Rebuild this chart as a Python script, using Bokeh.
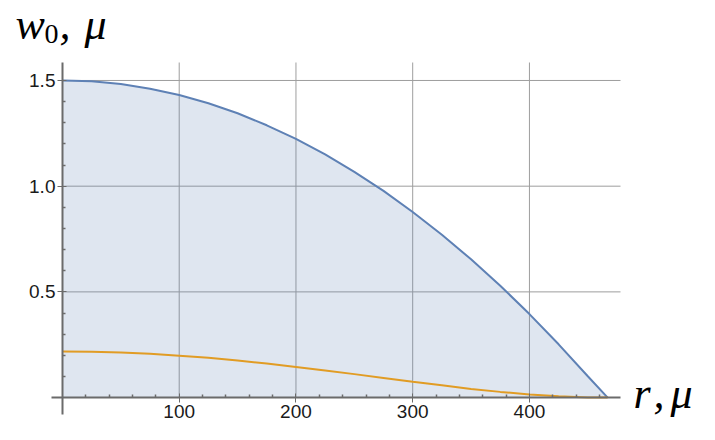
from bokeh.plotting import figure
from bokeh.models import FixedTicker, Label, Range1d
from bokeh.embed import file_html
from bokeh.resources import INLINE

# ---- data ----
r = [0, 25, 50, 75, 100, 125, 150, 175, 200, 225, 250, 275, 300, 325, 350, 375, 400, 425, 450, 467]
w_max = [1.500, 1.496, 1.483, 1.461, 1.431, 1.392, 1.345, 1.288, 1.224, 1.150, 1.068, 0.978,
         0.878, 0.770, 0.654, 0.529, 0.395, 0.252, 0.101, 0.0]
w_min = [0.218, 0.217, 0.213, 0.207, 0.198, 0.188, 0.175, 0.161, 0.145, 0.128, 0.111, 0.093,
         0.075, 0.058, 0.041, 0.027, 0.015, 0.006, 0.001, 0.0]

x_ticks = [100, 200, 300, 400]
x_minor = [v for v in range(20, 480, 20) if v % 100]
y_ticks = [0.5, 1.0, 1.5]
y_tick_labels = ["0.5", "1.0", "1.5"]
y_minor = [round(0.1 * k, 1) for k in range(1, 16) if k % 5]

# ---- geometry ----
W, H = 715, 440
X0, X1 = -9.4, 478.0
Y0, Y1 = -0.08, 1.585
PL, PR, PT, PB = 51, 620, 62, 414
SX = (PR - PL) / (X1 - X0)
SY = (PB - PT) / (Y1 - Y0)
XR = (X0 - PL / SX, X1 + (W - PR) / SX)
YR = (Y0 - (H - PB) / SY, Y1 + PT / SY)


def dx(px):
    return XR[0] + px / SX


def dy(py):
    return YR[1] - py / SY


p = figure(width=W, height=H, x_range=Range1d(*XR), y_range=Range1d(*YR),
           output_backend="svg", toolbar_location=None,
           min_border_left=0, min_border_right=0, min_border_top=0, min_border_bottom=0)
p.outline_line_color = None
p.xgrid.visible = False
p.ygrid.visible = False
p.background_fill_color = "white"
p.border_fill_color = "white"

GRID = "#9e9e9e"
p.segment(x0=x_ticks, y0=[0] * len(x_ticks), x1=x_ticks, y1=[Y1] * len(x_ticks),
          line_color=GRID, line_width=1)
p.segment(x0=[0] * len(y_ticks), y0=y_ticks, x1=[X1] * len(y_ticks), y1=y_ticks,
          line_color=GRID, line_width=1)

p.varea(x=r, y1=[0] * len(r), y2=w_max, fill_color="#5E81B5", fill_alpha=0.2)
p.line(r, w_max, line_color="#5E81B5", line_width=2)
p.line(r, w_min, line_color="#E19C24", line_width=2)

AX = "#6b6b6b"
for ax in (p.xaxis[0], p.yaxis[0]):
    ax.fixed_location = 0
    ax.axis_line_color = AX
    ax.axis_line_width = 2
    ax.major_tick_line_color = AX
    ax.major_tick_line_width = 1
    ax.minor_tick_line_color = AX
    ax.minor_tick_line_width = 1.5
    ax.major_tick_in = 4
    ax.major_tick_out = 5
    ax.minor_tick_in = 3
    ax.minor_tick_out = 0
    ax.major_label_text_font = "Liberation Sans"
    ax.major_label_text_font_size = "19px"
    ax.major_label_text_color = "#1a1a1a"
    ax.major_label_standoff = 2

p.xaxis[0].bounds = (X0, X1)
p.yaxis[0].bounds = (Y0, Y1)
p.xaxis[0].ticker = FixedTicker(ticks=x_ticks, minor_ticks=x_minor)
p.yaxis[0].ticker = FixedTicker(ticks=y_ticks, minor_ticks=y_minor)
p.yaxis[0].major_label_overrides = {t: s for t, s in zip(y_ticks, y_tick_labels)}

SERIF = "'Liberation Serif', 'Times New Roman', serif"


def lab(px, py, txt, size, style="italic"):
    p.add_layout(Label(x=dx(px), y=dy(py), text=txt, text_font=SERIF,
                       text_font_style=style, text_font_size=size,
                       text_baseline="alphabetic", text_align="left",
                       text_color="black"))


lab(15, 24, "w", "44px")
lab(44, 33, "0", "28px", style="normal")
lab(59, 24, ",", "44px")
lab(84, 24, "μ", "44px")

lab(633, 393, "r", "44px")
lab(653, 393, ",", "44px")
lab(670, 393, "μ", "44px")

open("out.html", "w").write(file_html(p, INLINE))
